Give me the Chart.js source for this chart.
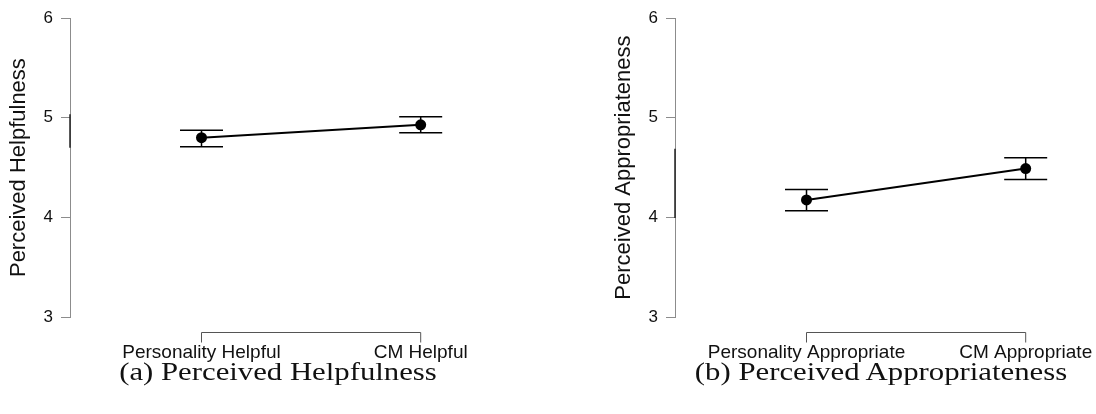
<!DOCTYPE html>
<html>
<head>
<meta charset="utf-8">
<script src="https://cdn.jsdelivr.net/npm/chart.js"></script>
<style>
  body { margin: 0; background: #fff; width: 1096px; height: 414px; position: relative; overflow: hidden; }
  canvas { position: absolute; top: 0; }
  #chartA { left: 0; }
  #chartB { left: 605px; }
  .caption {
    position: absolute; top: 357px; width: 400px; text-align: center;
    font-family: "Liberation Serif", "DejaVu Serif", serif; font-size: 25px; line-height: 30px;
    color: #111; transform: scaleX(1.23);
  }
</style>
</head>
<body>
<canvas id="chartA" width="560" height="414"></canvas>
<canvas id="chartB" width="560" height="414"></canvas>
<div class="caption" style="left:78px">(a) Perceived Helpfulness</div>
<div class="caption" style="left:681px">(b) Perceived Appropriateness</div>
<script>
// panel (a)
const helpCategories = ['Personality Helpful', 'CM Helpful'];
const helpMeans = [4.80, 4.93];
const helpLower = [4.71, 4.85];
const helpUpper = [4.875, 5.01];
const helpAxisRange = [4.70, 5.035];

// panel (b)
const apprCategories = ['Personality Appropriate', 'CM Appropriate'];
const apprMeans = [4.175, 4.49];
const apprLower = [4.067, 4.38];
const apprUpper = [4.28, 4.60];
const apprAxisRange = [3.995, 4.69];

const yTicks = [3, 4, 5, 6];

// error bars, the darker stretch on the y axis and the bracket under the categories
const extrasPlugin = {
    id: 'extras',
    beforeDatasetsDraw(chart, args, opts) {
        const ctx = chart.ctx;
        const xs = chart.scales.x, ys = chart.scales.y;
        ctx.save();
        ctx.strokeStyle = '#000';
        ctx.lineWidth = 1.5;
        opts.lower.forEach(function (lo, i) {
            const x = xs.getPixelForValue(i);
            const yl = ys.getPixelForValue(lo);
            const yu = ys.getPixelForValue(opts.upper[i]);
            ctx.beginPath();
            ctx.moveTo(x, yl); ctx.lineTo(x, yu);
            ctx.moveTo(x - 21.5, yl); ctx.lineTo(x + 21.5, yl);
            ctx.moveTo(x - 21.5, yu); ctx.lineTo(x + 21.5, yu);
            ctx.stroke();
        });
        ctx.restore();
    },
    afterDraw(chart, args, opts) {
        const ctx = chart.ctx;
        const xs = chart.scales.x, ys = chart.scales.y;
        const area = chart.chartArea;
        ctx.save();
        // range marker on the y axis
        ctx.strokeStyle = '#222';
        ctx.lineWidth = 1.5;
        ctx.beginPath();
        ctx.moveTo(area.left, ys.getPixelForValue(opts.range[0]));
        ctx.lineTo(area.left, ys.getPixelForValue(opts.range[1]));
        ctx.stroke();
        // bracket under the categories
        const by = Math.round(area.bottom + 15) + 0.5;
        const x0 = xs.getPixelForValue(0), x1 = xs.getPixelForValue(opts.lower.length - 1);
        ctx.strokeStyle = '#555';
        ctx.lineWidth = 1;
        ctx.beginPath();
        ctx.moveTo(x0, by + 10); ctx.lineTo(x0, by); ctx.lineTo(x1, by); ctx.lineTo(x1, by + 10);
        ctx.stroke();
        ctx.restore();
    }
};

function makeChart(id, categories, means, lower, upper, range, title) {
    const ctx = document.getElementById(id).getContext('2d');
    return new Chart(ctx, {
        type: 'line',
        data: {
            datasets: [{
                data: means.map(function (m, i) { return { x: i, y: m }; }),
                borderColor: '#000',
                borderWidth: 2,
                pointRadius: 5.5,
                pointBackgroundColor: '#000',
                pointBorderColor: '#000',
                pointBorderWidth: 0,
                tension: 0
            }]
        },
        options: {
            responsive: false,
            animation: false,
            devicePixelRatio: 1,
            layout: { padding: { top: 16.7, right: 7.8, bottom: 0, left: 0 } },
            plugins: {
                legend: { display: false },
                tooltip: { enabled: false },
                extras: { lower: lower, upper: upper, range: range }
            },
            scales: {
                x: {
                    type: 'linear',
                    min: -0.6,
                    max: 1.6,
                    afterBuildTicks: function (s) { s.ticks = categories.map(function (c, i) { return { value: i }; }); },
                    afterFit: function (s) { s.height = 97; },
                    grid: { display: false, drawTicks: false },
                    border: { display: false },
                    ticks: {
                        autoSkip: false,
                        maxRotation: 0,
                        padding: 24,
                        color: '#111',
                        font: { family: 'Liberation Sans, Arial, sans-serif', size: 19 },
                        callback: function (v) { return categories[v]; }
                    }
                },
                y: {
                    min: 3,
                    max: 6,
                    afterBuildTicks: function (s) { s.ticks = yTicks.map(function (v) { return { value: v }; }); },
                    afterFit: function (s) { s.width = 70; },
                    grid: { drawOnChartArea: false, drawTicks: true, tickLength: 9, color: '#8c8c8c' },
                    border: { display: true, color: '#8c8c8c', width: 1 },
                    ticks: {
                        padding: 8,
                        color: '#111',
                        font: { family: 'Liberation Sans, Arial, sans-serif', size: 17 }
                    },
                    title: {
                        display: true,
                        text: title,
                        color: '#111',
                        padding: { top: 6, bottom: 0 },
                        font: { family: 'Liberation Sans, Arial, sans-serif', size: 22 }
                    }
                }
            }
        },
        plugins: [extrasPlugin]
    });
}

makeChart('chartA', helpCategories, helpMeans, helpLower, helpUpper, helpAxisRange, 'Perceived Helpfulness');
makeChart('chartB', apprCategories, apprMeans, apprLower, apprUpper, apprAxisRange, 'Perceived Appropriateness');
</script>
</body>
</html>
